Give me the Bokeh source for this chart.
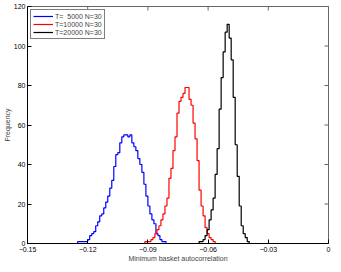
import math
from bokeh.plotting import figure
from bokeh.models import FixedTicker, Range1d, Legend, LegendItem
from bokeh.embed import file_html
from bokeh.resources import INLINE

# ---------------- data ----------------
bin_width = 0.001
x_min, x_max = -0.15, 0.0
y_min, y_max = 0, 120

blue_start = -0.125
blue_counts = [1, 1, 1, 1, 1, 2, 4, 5, 6, 9, 11, 14, 15, 18, 21, 24, 28, 32, 39, 45,
               46, 51, 54, 55, 55, 54, 55, 51, 49, 47, 43, 40, 36, 30, 24, 19, 15, 12,
               10, 5, 4, 2, 1, 1]

red_start = -0.0915
red_counts = [1, 1, 1, 2, 3, 5, 7, 9, 12, 15, 19, 23, 33, 38, 47, 54, 66, 72, 74, 76,
              79, 79, 73, 70, 61, 53, 42, 27, 19, 14, 8, 5, 3, 2, 1]

black_start = -0.0645
black_counts = [1, 1, 2, 4, 7, 12, 17, 23, 35, 48, 68, 84, 97, 107, 111, 104, 93, 74,
                50, 34, 19, 9, 5, 3, 1]

series_labels = ["T=\u00a0\u00a05000 N=30", "T=10000 N=30", "T=20000 N=30"]
series_colors = ["#0000ff", "#ff0000", "#000000"]

x_ticks = [-0.15, -0.12, -0.09, -0.06, -0.03, 0.0]
x_tick_labels = ["\u22120.15", "\u22120.12", "\u22120.09", "\u22120.06", "\u22120.03", "0"]
y_ticks = [0, 20, 40, 60, 80, 100, 120]

x_label = "Minimum basket autocorrelation"
y_label = "Frequency"


def stair_points(start, counts):
    xs, ys = [x_min, start], [0, 0]
    for i, c in enumerate(counts):
        xs += [start + i * bin_width, start + (i + 1) * bin_width]
        ys += [c, c]
    xs += [start + len(counts) * bin_width, x_max]
    ys += [0, 0]
    return xs, ys


FONT = "Liberation Sans"

p = figure(width=333, height=264,
           x_range=Range1d(x_min, x_max), y_range=Range1d(y_min, y_max),
           output_backend="svg", toolbar_location=None,
           min_border_left=2, min_border_right=5, min_border_top=6, min_border_bottom=0)
p.background_fill_color = "white"
p.border_fill_color = "white"
p.outline_line_color = "#666666"
p.outline_line_width = 1
p.xgrid.visible = False
p.ygrid.visible = False

renderers = []
for start, counts, color in zip([blue_start, red_start, black_start],
                                [blue_counts, red_counts, black_counts],
                                series_colors):
    xs, ys = stair_points(start, counts)
    r = p.line(xs, ys, line_color=color, line_width=1.2)
    renderers.append(r)

# mirrored inward ticks on the top and right edges (clipped to the frame)
p.scatter(x_ticks, [y_max] * len(x_ticks), marker="dash", size=8, angle=math.pi / 2,
          line_color="#666666", line_width=1)
p.scatter([x_max] * len(y_ticks), y_ticks, marker="dash", size=8,
          line_color="#666666", line_width=1)


def style_axis(ax, ticks):
    ax.ticker = FixedTicker(ticks=ticks)
    ax.major_tick_in = 4
    ax.major_tick_out = 0
    ax.minor_tick_in = 0
    ax.minor_tick_out = 0
    ax.axis_line_color = "black"
    ax.major_tick_line_color = "black"
    ax.axis_line_width = 1
    ax.major_label_text_font = FONT
    ax.major_label_text_font_size = "7px"
    ax.major_label_text_color = "black"
    ax.major_label_text_line_height = 1.0
    ax.major_label_standoff = 2
    ax.axis_label_text_font = FONT
    ax.axis_label_text_font_size = "7px"
    ax.axis_label_text_font_style = "normal"
    ax.axis_label_text_line_height = 1.0
    ax.axis_label_standoff = 0


xa = p.xaxis[0]
style_axis(xa, x_ticks)
xa.major_label_overrides = {t: lab for t, lab in zip(x_ticks, x_tick_labels)}
xa.axis_label = x_label
xa.major_label_standoff = 3

ya = p.yaxis[0]
style_axis(ya, y_ticks)
ya.axis_label = y_label

legend = Legend(items=[LegendItem(label=lab, renderers=[r])
                       for lab, r in zip(series_labels, renderers)],
                location="top_left")
legend.label_text_font = FONT
legend.label_text_font_size = "7px"
legend.label_height = 8
legend.glyph_height = 8
legend.glyph_width = 20
legend.label_standoff = 2
legend.spacing = 0
legend.padding = 2
legend.margin = 3
legend.border_line_color = "black"
legend.border_line_width = 1
legend.background_fill_color = "white"
legend.background_fill_alpha = 1
p.add_layout(legend)

open("out.html", "w").write(file_html(p, INLINE))
